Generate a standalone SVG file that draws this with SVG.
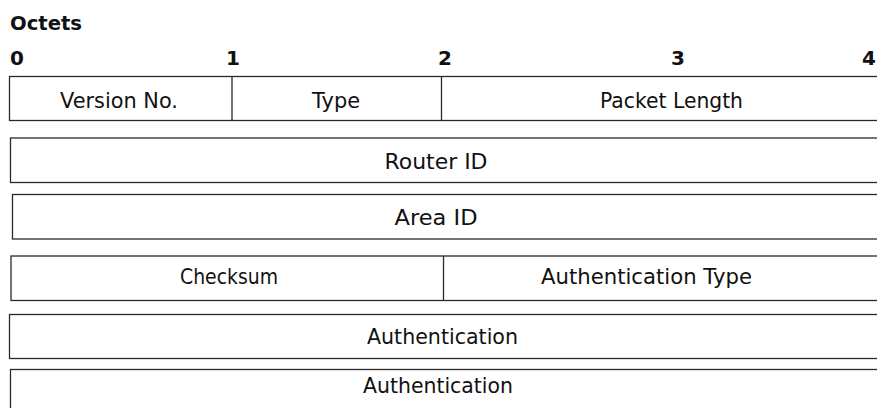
<svg xmlns="http://www.w3.org/2000/svg" width="877" height="408" viewBox="0 0 877 408">
<style>
.bg{fill:#ffffff}
.box{fill:none;stroke:#2a2a2a;stroke-width:1.3}
.div{stroke:#2a2a2a;stroke-width:1.3}
.lbl{font-family:"Comic Sans MS","DejaVu Sans",sans-serif;font-size:21px;fill:#111;text-anchor:middle}
.hd{font-family:"Comic Sans MS","DejaVu Sans",sans-serif;font-size:20px;font-weight:bold;fill:#111}
</style>
<rect class="bg" x="0" y="0" width="877" height="408"/>
<g id="header">
<text class="hd" x="10" y="30" textLength="72" lengthAdjust="spacingAndGlyphs">Octets</text>
<text class="hd" x="10" y="65">0</text>
<text class="hd" x="233" y="65" text-anchor="middle">1</text>
<text class="hd" x="445" y="65" text-anchor="middle">2</text>
<text class="hd" x="678" y="65" text-anchor="middle">3</text>
<text class="hd" x="862" y="65">4</text>
</g>
<g id="row1">
<rect class="box" x="9.5" y="76.5" width="880" height="44"/>
<line class="div" x1="232" y1="76.5" x2="232" y2="120.5"/>
<line class="div" x1="441.5" y1="76.5" x2="441.5" y2="120.5"/>
<g id="version"><text class="lbl" x="119" y="108" textLength="118" lengthAdjust="spacingAndGlyphs">Version No.</text></g>
<g id="type"><text class="lbl" x="336" y="108" textLength="48" lengthAdjust="spacingAndGlyphs">Type</text></g>
<g id="packet-length"><text class="lbl" x="671.5" y="108" textLength="143" lengthAdjust="spacingAndGlyphs">Packet Length</text></g>
</g>
<g id="router-id">
<rect class="box" x="10.5" y="138" width="880" height="44.5"/>
<text class="lbl" x="436" y="169" textLength="103" lengthAdjust="spacingAndGlyphs">Router ID</text>
</g>
<g id="area-id">
<rect class="box" x="12.5" y="194.5" width="880" height="44.5"/>
<text class="lbl" x="436" y="225" textLength="83" lengthAdjust="spacingAndGlyphs">Area ID</text>
</g>
<g id="row4">
<rect class="box" x="11" y="256" width="880" height="44.5"/>
<line class="div" x1="443.5" y1="256" x2="443.5" y2="300.5"/>
<g id="checksum"><text class="lbl" x="229" y="284" textLength="98" lengthAdjust="spacingAndGlyphs">Checksum</text></g>
<g id="auth-type"><text class="lbl" x="646.5" y="284" textLength="211" lengthAdjust="spacingAndGlyphs">Authentication Type</text></g>
</g>
<g id="auth1">
<rect class="box" x="9.5" y="314.5" width="880" height="44"/>
<text class="lbl" x="442.5" y="344" textLength="151" lengthAdjust="spacingAndGlyphs">Authentication</text>
</g>
<g id="auth2">
<rect class="box" x="10.5" y="369.5" width="880" height="44"/>
<text class="lbl" x="438" y="393" textLength="150" lengthAdjust="spacingAndGlyphs">Authentication</text>
</g>
<g id="connectors"></g>
</svg>
